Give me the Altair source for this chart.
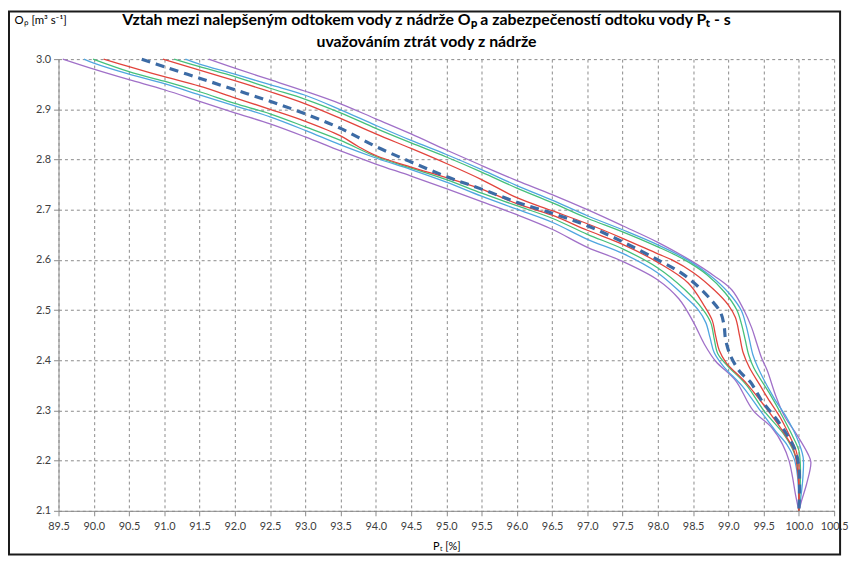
import altair as alt
import pandas as pd

# ---- data ----
x_ticks = [89.5, 90.0, 90.5, 91.0, 91.5, 92.0, 92.5, 93.0, 93.5, 94.0, 94.5, 95.0,
           95.5, 96.0, 96.5, 97.0, 97.5, 98.0, 98.5, 99.0, 99.5, 100.0, 100.5]
y_ticks = [2.1, 2.2, 2.3, 2.4, 2.5, 2.6, 2.7, 2.8, 2.9, 3.0]

PL_x = [89.56, 90.0, 90.5, 91.0, 91.5, 92.0, 92.5, 93.0, 93.5, 94.0, 94.5, 95.0, 95.5, 96.0, 96.5, 97.0, 97.5, 98.0, 98.3, 98.5, 98.66, 98.82, 99.1, 99.35, 99.62, 99.77, 99.86, 99.91, 99.95, 100.0]
PL_y = [3.0, 2.980, 2.959, 2.939, 2.916, 2.893, 2.871, 2.845, 2.817, 2.791, 2.767, 2.742, 2.716, 2.690, 2.661, 2.625, 2.597, 2.560, 2.522, 2.477, 2.432, 2.398, 2.360, 2.300, 2.265, 2.232, 2.200, 2.167, 2.134, 2.1]

BL_x = [89.86, 90.0, 90.5, 91.0, 91.5, 92.0, 92.5, 93.0, 93.5, 94.0, 94.5, 95.0, 95.5, 96.0, 96.5, 97.0, 97.5, 98.0, 98.33, 98.57, 98.68, 98.74, 98.8, 98.93, 99.2, 99.45, 99.67, 99.83, 99.93, 99.98, 100.0]
BL_y = [3.0, 2.992, 2.970, 2.951, 2.929, 2.907, 2.885, 2.858, 2.829, 2.803, 2.780, 2.755, 2.727, 2.701, 2.675, 2.641, 2.613, 2.574, 2.534, 2.501, 2.475, 2.445, 2.415, 2.388, 2.348, 2.300, 2.259, 2.232, 2.205, 2.170, 2.1]

GL_x = [89.99, 90.5, 91.0, 91.5, 92.0, 92.5, 93.0, 93.5, 94.0, 94.5, 95.0, 95.5, 96.0, 96.5, 97.0, 97.5, 98.0, 98.38, 98.64, 98.75, 98.8, 98.85, 98.98, 99.26, 99.5, 99.79, 99.9, 99.97, 100.0, 100.0]
GL_y = [3.0, 2.975, 2.956, 2.935, 2.912, 2.891, 2.865, 2.838, 2.806, 2.783, 2.760, 2.733, 2.708, 2.683, 2.651, 2.622, 2.584, 2.541, 2.501, 2.475, 2.442, 2.413, 2.390, 2.350, 2.300, 2.252, 2.226, 2.200, 2.165, 2.1]

RL_x = [90.14, 90.5, 91.0, 91.5, 92.0, 92.5, 93.0, 93.5, 93.75, 94.0, 94.5, 95.0, 95.5, 96.0, 96.5, 97.0, 97.5, 98.0, 98.43, 98.66, 98.77, 98.82, 98.87, 98.97, 99.25, 99.56, 99.83, 99.93, 99.97, 100.0, 100.0]
RL_y = [3.0, 2.985, 2.965, 2.946, 2.923, 2.900, 2.876, 2.847, 2.826, 2.808, 2.785, 2.764, 2.741, 2.712, 2.689, 2.659, 2.631, 2.595, 2.554, 2.508, 2.480, 2.448, 2.420, 2.395, 2.355, 2.300, 2.246, 2.220, 2.193, 2.150, 2.1]

D_x = [90.68, 91.0, 91.5, 92.0, 92.5, 93.0, 93.5, 94.0, 94.5, 95.0, 95.5, 96.0, 96.5, 97.0, 97.5, 98.0, 98.33, 98.57, 98.75, 98.89, 98.94, 98.96, 99.03, 99.17, 99.31, 99.48, 99.67, 99.83, 99.95, 100.0, 100.01, 100.0]
D_y = [3.0, 2.985, 2.962, 2.939, 2.916, 2.891, 2.862, 2.826, 2.795, 2.766, 2.741, 2.715, 2.693, 2.668, 2.636, 2.600, 2.574, 2.547, 2.521, 2.495, 2.468, 2.442, 2.409, 2.376, 2.357, 2.318, 2.285, 2.252, 2.220, 2.187, 2.148, 2.1]

RR_x = [90.98, 91.5, 92.0, 92.5, 93.0, 93.5, 94.0, 94.5, 95.0, 95.5, 96.0, 96.5, 97.0, 97.5, 98.0, 98.2, 98.5, 98.8, 99.0, 99.1, 99.16, 99.21, 99.3, 99.45, 99.56, 99.74, 99.88, 99.96, 100.0, 100.0, 100.0]
RR_y = [3.0, 2.978, 2.957, 2.935, 2.911, 2.882, 2.851, 2.822, 2.792, 2.760, 2.724, 2.698, 2.672, 2.643, 2.612, 2.600, 2.575, 2.540, 2.510, 2.485, 2.448, 2.415, 2.385, 2.350, 2.324, 2.285, 2.246, 2.220, 2.193, 2.150, 2.1]

GR_x = [91.14, 91.5, 92.0, 92.5, 93.0, 93.5, 94.0, 94.5, 95.0, 95.5, 96.0, 96.5, 97.0, 97.5, 98.0, 98.38, 98.7, 98.95, 99.12, 99.19, 99.24, 99.29, 99.36, 99.6, 99.76, 99.9, 100.0, 100.02, 100.02, 100.0]
GR_y = [3.0, 2.985, 2.965, 2.942, 2.920, 2.893, 2.862, 2.833, 2.805, 2.775, 2.743, 2.714, 2.683, 2.656, 2.626, 2.600, 2.570, 2.535, 2.500, 2.470, 2.440, 2.410, 2.385, 2.330, 2.290, 2.252, 2.220, 2.193, 2.154, 2.1]

BR_x = [91.3, 91.5, 92.0, 92.5, 93.0, 93.5, 94.0, 94.5, 95.0, 95.5, 96.0, 96.5, 97.0, 97.5, 98.0, 98.42, 98.75, 99.0, 99.18, 99.25, 99.3, 99.35, 99.42, 99.65, 99.83, 99.97, 100.06, 100.06, 100.04, 100.0]
BR_y = [3.0, 2.990, 2.970, 2.949, 2.928, 2.899, 2.868, 2.838, 2.810, 2.780, 2.748, 2.719, 2.688, 2.660, 2.630, 2.600, 2.568, 2.535, 2.500, 2.470, 2.440, 2.410, 2.385, 2.324, 2.285, 2.246, 2.207, 2.174, 2.141, 2.1]

PR_x = [91.63, 92.0, 92.5, 93.0, 93.5, 94.0, 94.5, 95.0, 95.5, 96.0, 96.5, 97.0, 97.5, 98.0, 98.45, 98.8, 99.05, 99.22, 99.33, 99.4, 99.47, 99.55, 99.67, 99.79, 99.97, 100.13, 100.17, 100.11, 100.04, 100.0]
PR_y = [3.0, 2.982, 2.959, 2.936, 2.911, 2.881, 2.851, 2.819, 2.788, 2.758, 2.730, 2.700, 2.668, 2.635, 2.600, 2.568, 2.540, 2.500, 2.465, 2.435, 2.405, 2.380, 2.330, 2.290, 2.252, 2.213, 2.197, 2.154, 2.121, 2.1]

series_names = ["PL", "PR", "BL", "BR", "GL", "GR", "RL", "RR"]
series_colors = ["#A070C8", "#A070C8", "#4FA6E0", "#4FA6E0", "#45C07A", "#45C07A", "#E2443C", "#E2443C"]

series = {
    "PL": (PL_x, PL_y), "PR": (PR_x, PR_y),
    "BL": (BL_x, BL_y), "BR": (BR_x, BR_y),
    "GL": (GL_x, GL_y), "GR": (GR_x, GR_y),
    "RL": (RL_x, RL_y), "RR": (RR_x, RR_y),
    "D": (D_x, D_y),
}

rows = []
for name, (xs, ys) in series.items():
    for i, (xv, yv) in enumerate(zip(xs, ys)):
        rows.append({"s": name, "i": i, "x": xv, "y": yv})
df = pd.DataFrame(rows)

title_lines = ["Vztah mezi nalepšeným odtokem vody z nádrže Oₚ a zabezpečeností odtoku vody Pₜ -  s",
               "uvažováním ztrát vody z nádrže"]

FONT = "Lato"

x_enc = alt.X("x:Q",
              scale=alt.Scale(domain=[89.5, 100.5], nice=False, zero=False),
              axis=alt.Axis(values=x_ticks, format=".1f", title="Pₜ [%]",
                            titleFontSize=11, titleFontWeight="normal", titlePadding=9,
                            labelPadding=5, labelFlush=False))
y_enc = alt.Y("y:Q",
              scale=alt.Scale(domain=[2.1, 3.0], nice=False, zero=False),
              axis=alt.Axis(values=y_ticks, format=".1f", title="Oₚ [m³ s⁻¹]",
                            titleAngle=0, titleX=-45, titleY=-39, titleAlign="left",
                            titleBaseline="middle", titleFontSize=11.5,
                            titleFontWeight="normal", labelPadding=3, labelFlush=False))

solid = alt.Chart(df).transform_filter(alt.datum.s != "D").mark_line(
    interpolate="catmull-rom", strokeWidth=1.3
).encode(
    x=x_enc, y=y_enc,
    color=alt.Color("s:N", scale=alt.Scale(domain=series_names, range=series_colors), legend=None),
    order="i:Q",
)

dashed = alt.Chart(df).transform_filter(alt.datum.s == "D").mark_line(
    interpolate="catmull-rom", strokeWidth=3.2, strokeDash=[9, 6], color="#3C6BA5"
).encode(x=x_enc, y=y_enc, order="i:Q")

frame = alt.Chart(pd.DataFrame({"a": [0]})).mark_rect(
    filled=False, stroke="#1a1a1a", strokeWidth=2
).encode(x=alt.value(-50), x2=alt.value(789), y=alt.value(-48), y2=alt.value(500))

chart = alt.layer(solid, dashed, frame).properties(
    width=783, height=456,
    padding=0,
    title=alt.TitleParams(text=title_lines, font=FONT, fontSize=16, fontWeight="bold",
                          color="#000000", anchor="middle", frame="group",
                          offset=-40, dx=-20, lineHeight=22),
).configure_view(stroke=None).configure_axis(
    labelFont=FONT, titleFont=FONT, labelFontSize=11, labelColor="#404040",
    titleColor="#000000", gridColor="#8a8a8a", gridDash=[3, 3], gridWidth=1,
    domainColor="#8a8a8a", tickColor="#8a8a8a", tickSize=5,
)

chart.save("out.html", embed_options={"renderer": "svg", "actions": False})
